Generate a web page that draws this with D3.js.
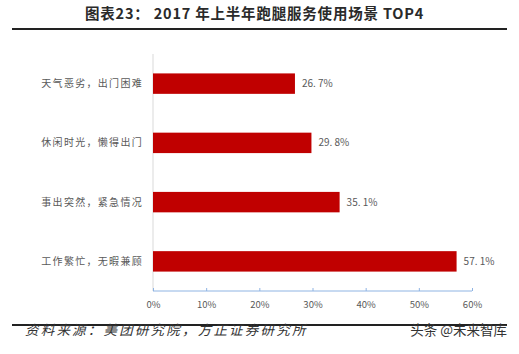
<!DOCTYPE html>
<html>
<head>
<meta charset="utf-8">
<script src="https://cdn.jsdelivr.net/npm/d3@7"></script>
<style>
  body { margin: 0; background: #fff; }
  svg { display: block; }
</style>
</head>
<body>
<div id="wrapper"></div>
<script>
// data
const categories = ["天气恶劣，出门困难", "休闲时光，懒得出门", "事出突然，紧急情况", "工作繁忙，无暇兼顾"];
const values = [26.7, 29.8, 35.1, 57.1];
const tickValues = [0, 10, 20, 30, 40, 50, 60];
const titleText = "图表23：  2017 年上半年跑腿服务使用场景 TOP4";
const sourceText = "资料来源：美团研究院，方正证券研究所";
const watermark = "头条 @未来智库";

function draw() {
    const width = 519, height = 354;
    const cjk = '"Noto Sans CJK SC", "Noto Sans", sans-serif';

    const svg = d3.select("#wrapper").append("svg")
        .attr("width", width)
        .attr("height", height);

    // title + rules
    svg.append("text")
        .attr("x", 85).attr("y", 19)
        .attr("font-family", cjk)
        .attr("font-size", 14.5)
        .attr("font-weight", "bold")
        .attr("letter-spacing", 0.8)
        .attr("fill", "#2a2a2a")
        .text(titleText);
    svg.append("line")
        .attr("x1", 12).attr("x2", 507).attr("y1", 29).attr("y2", 29)
        .attr("stroke", "#222").attr("stroke-width", 2);
    svg.append("line")
        .attr("x1", 12).attr("x2", 507).attr("y1", 325).attr("y2", 325)
        .attr("stroke", "#222").attr("stroke-width", 2);

    // scales
    const xScale = d3.scaleLinear().domain([0, 60]).range([153, 472]);
    const yScale = d3.scaleBand()
        .domain(categories)
        .range([54, 291])
        .paddingInner(0.655)
        .paddingOuter(0.3275);

    // vertical axis line
    svg.append("line")
        .attr("x1", xScale(0)).attr("x2", xScale(0))
        .attr("y1", 54).attr("y2", 291)
        .attr("stroke", "#d9d9d9").attr("stroke-width", 1);

    // bars
    svg.selectAll(".bar")
        .data(values)
        .enter().append("rect")
        .attr("class", "bar")
        .attr("x", xScale(0))
        .attr("y", (d, i) => yScale(categories[i]))
        .attr("width", d => xScale(d) - xScale(0))
        .attr("height", yScale.bandwidth())
        .attr("fill", "#c00000");

    // value labels
    svg.selectAll(".value")
        .data(values)
        .enter().append("text")
        .attr("x", d => xScale(d) + 7)
        .attr("y", (d, i) => yScale(categories[i]) + yScale.bandwidth() / 2)
        .attr("dy", "0.35em")
        .attr("font-family", cjk)
        .attr("font-size", 10)
        .attr("fill", "#595959")
        .text(d => d3.format(".1f")(d).replace(".", ". ") + "%");

    // category labels
    svg.selectAll(".cat")
        .data(categories)
        .enter().append("text")
        .attr("x", 143)
        .attr("y", d => yScale(d) + yScale.bandwidth() / 2)
        .attr("dy", "0.35em")
        .attr("text-anchor", "end")
        .attr("font-family", cjk)
        .attr("font-size", 10)
        .attr("letter-spacing", 1.3)
        .attr("fill", "#595959")
        .text(d => d);

    // x axis
    const xAxis = d3.axisBottom(xScale)
        .tickValues(tickValues)
        .tickSize(-3)
        .tickFormat(d => d + "%");
    const axisG = svg.append("g")
        .attr("transform", "translate(0,291)")
        .call(xAxis);
    axisG.select(".domain").attr("stroke", "#8fb4e3").attr("d", `M${xScale(0)},0H${xScale(60)}`);
    axisG.selectAll(".tick line").attr("stroke", "#8fb4e3");
    axisG.selectAll(".tick text")
        .attr("y", 10)
        .attr("font-family", cjk)
        .attr("font-size", 9.5)
        .attr("fill", "#595959");

    // source + watermark
    svg.append("text")
        .attr("x", 25).attr("y", 335)
        .attr("font-family", cjk)
        .attr("font-size", 13.5)
        .attr("font-style", "italic")
        .attr("letter-spacing", 2.2)
        .attr("fill", "#333")
        .text(sourceText);
    svg.append("text")
        .attr("x", 507).attr("y", 335)
        .attr("text-anchor", "end")
        .attr("font-family", cjk)
        .attr("font-size", 13.5)
        .attr("fill", "#333")
        .text(watermark);
}

draw();
</script>
</body>
</html>
